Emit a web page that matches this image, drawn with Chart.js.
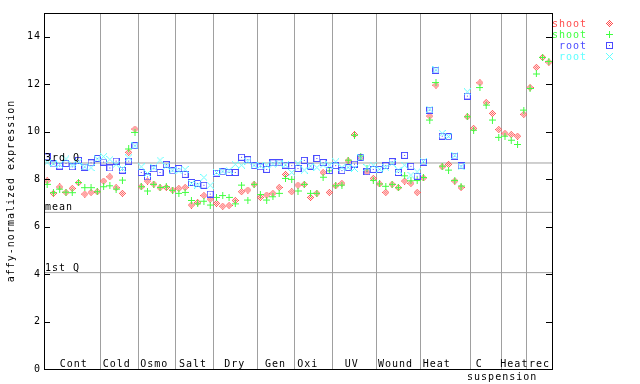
<!DOCTYPE html>
<html><head><meta charset="utf-8">
<script src="https://cdn.jsdelivr.net/npm/chart.js@4/dist/chart.umd.min.js"></script>
<style>html,body{margin:0;padding:0;background:#fff;overflow:hidden}#wrap{width:640px;height:384px}</style>
</head><body><div id="wrap"><canvas id="c" width="640" height="384"></canvas></div>
<script>
// ---- data ----
const groupNames = ['Cont','Cold','Osmo','Salt','Dry','Gen','Oxi','UV','Wound','Heat','C\nsuspension','Heat','rec'];
const groupSizes = [9,6,6,6,7,6,6,7,7,8,5,4,4];
const yTickValues = [0,2,4,6,8,10,12,14];
const quartileNames = ['3rd Q','mean','1st Q'];
const quartileValues = [8.68, 6.60, 4.06];
const seriesNames = ['shoot','shoot','root','root'];
const shootRed = [7.93,7.40,7.67,7.44,7.61,7.85,7.37,7.44,7.47,
  7.92,8.10,7.64,7.40,9.13,10.11,
  7.68,7.92,7.79,7.64,7.65,7.54,
  7.61,7.65,6.91,7.02,7.31,7.16,
  6.98,6.86,6.89,7.10,7.47,7.54,7.78,
  7.23,7.33,7.40,7.65,8.20,7.47,
  7.75,7.78,7.23,7.40,8.28,7.44,
  7.72,7.82,8.77,9.88,8.90,8.31,8.03,
  7.80,7.44,7.78,7.64,7.92,7.82,7.44,
  8.05,10.66,11.96,8.52,8.62,7.92,7.65,10.63,
  10.14,12.06,11.23,10.77,10.09,
  9.93,9.88,9.81,10.73,
  11.86,12.71,13.13,12.93];
const shootGreen = [7.78,7.43,7.58,7.45,7.43,7.86,7.64,7.64,7.47,
  7.68,7.72,7.58,7.96,9.27,9.97,
  7.68,7.50,7.78,7.65,7.68,7.53,
  7.40,7.44,7.10,6.96,7.07,6.91,
  7.23,7.31,7.23,6.96,7.75,7.12,7.78,
  7.35,7.12,7.26,7.40,8.03,7.99,
  7.50,7.78,7.40,7.40,8.08,8.35,
  7.72,7.75,8.80,9.85,8.97,8.45,7.95,
  7.80,7.70,7.78,7.64,8.14,7.93,7.94,
  8.07,10.49,12.07,8.55,8.38,7.95,7.71,10.63,
  10.06,11.86,11.12,10.49,9.76,
  9.81,9.64,9.46,10.91,
  11.82,12.43,13.13,12.96];
const rootBlue = [8.94,8.64,8.55,8.66,8.52,8.79,8.51,8.69,8.87,
  8.72,8.47,8.76,8.38,8.76,9.41,
  8.28,8.09,8.44,8.28,8.62,8.35,
  8.45,8.20,7.86,7.82,7.74,7.37,
  8.25,8.31,8.28,8.28,8.92,8.82,8.57,
  8.52,8.41,8.69,8.69,8.59,8.57,
  8.45,8.79,8.55,8.87,8.70,8.36,
  8.57,8.36,8.49,8.63,8.92,8.31,8.41,
  8.41,8.57,8.74,8.28,9.00,8.54,8.12,
  8.72,10.91,12.59,9.81,9.79,8.97,8.56,11.50];
const rootCyan = [8.71,8.65,8.62,8.85,8.60,8.72,8.52,8.48,8.85,
  8.95,8.83,8.62,8.45,8.90,9.40,
  8.52,8.24,8.50,8.80,8.55,8.38,
  8.35,8.41,7.82,7.75,8.07,7.74,
  8.28,8.34,8.37,8.62,8.59,8.75,8.59,
  8.57,8.59,8.63,8.67,8.60,8.28,
  8.66,8.38,8.55,8.49,8.60,8.59,
  8.73,8.49,8.50,8.45,8.90,8.49,8.59,
  8.42,8.49,8.66,8.38,8.59,8.17,8.31,
  8.75,10.95,12.60,9.93,9.80,9.00,8.52,11.68];

// ---- style ----
const FONT = '"DejaVu Sans Mono", monospace';
const COLORS = ['#ff4d4d','#40ff40','#4b4bff','#60ffff'];
const KINDS = ['diamond','plus','square','cross'];
const GRID = '#a0a0a0';
const labelShift = [1.5,-2.5,-2.7,-1.5,-0.5,-0.5,-6,-2.7,-2.8,-8.6,-7,0,0];

function makeMarker(color, kind){
  const c = document.createElement('canvas'); c.width = 7; c.height = 7;
  const g = c.getContext('2d'); g.fillStyle = color;
  for (let dy=-3; dy<=3; dy++) for (let dx=-3; dx<=3; dx++){
    let on = false;
    if (kind==='diamond') on = Math.abs(dx)+Math.abs(dy)===3 || (Math.abs(dx)+Math.abs(dy)===1);
    if (kind==='plus') on = dx===0 || dy===0;
    if (kind==='square') on = Math.abs(dx)===3 || Math.abs(dy)===3 || (dx===0 && dy===0);
    if (kind==='cross') on = Math.abs(dx)===Math.abs(dy);
    if (on) g.fillRect(dx+3, dy+3, 1, 1);
  }
  return c;
}
const markers = COLORS.map((c,i)=>makeMarker(c, KINDS[i]));

const boundaries = [0];
groupSizes.forEach(s => boundaries.push(boundaries[boundaries.length-1] + s));
const nSamples = boundaries[boundaries.length-1];

function toPoints(arr){ return arr.map((v,i)=>({x:i+0.5, y:v})).filter(p=>p.y!=null); }
const seriesData = [shootRed, shootGreen, rootBlue, rootCyan];

const datasets = seriesData.map((arr,k)=>({
  type:'scatter', label: seriesNames[k], data: toPoints(arr),
  pointStyle: markers[k], pointRadius: 3.5, pointHoverRadius: 3.5,
  borderColor: COLORS[k], backgroundColor: COLORS[k], order: 4-k
}));
quartileValues.forEach(q => datasets.push({
  type:'line', label:'', data:[{x:0,y:q},{x:nSamples,y:q}],
  borderColor: GRID, borderWidth: 1, pointRadius: 0, fill:false, order: 10
}));

const decor = {
  id:'decor',
  beforeDraw(chart){ chart.ctx.letterSpacing = '1px'; },
  afterDraw(chart){
    const ctx = chart.ctx, a = chart.chartArea, xs = chart.scales.x, ys = chart.scales.y;
    ctx.save();
    ctx.letterSpacing = '1px';
    ctx.strokeStyle = '#000'; ctx.lineWidth = 1;
    // frame
    ctx.strokeRect(Math.round(a.left)+0.5, Math.round(a.top)+0.5, Math.round(a.right-a.left)-1+1, Math.round(a.bottom-a.top));
    // inward ticks
    ctx.beginPath();
    yTickValues.forEach(v=>{
      const py = Math.round(ys.getPixelForValue(v))+0.5;
      ctx.moveTo(a.left, py); ctx.lineTo(a.left+6, py);
      ctx.moveTo(a.right, py); ctx.lineTo(a.right-6, py);
    });
    ctx.stroke();
    ctx.font = '10px ' + FONT;
    ctx.fillStyle = '#000';
    // quartile labels
    ctx.textAlign = 'left'; ctx.textBaseline = 'alphabetic';
    quartileValues.forEach((q,i)=>{
      ctx.fillText(quartileNames[i], a.left+1, ys.getPixelForValue(q)-2);
    });
    // group labels
    ctx.textAlign = 'center';
    groupNames.forEach((name,i)=>{
      const cx = (xs.getPixelForValue(boundaries[i]) + xs.getPixelForValue(boundaries[i+1]))/2 + labelShift[i];
      const lines = name.split('\n');
      ctx.fillText(lines[0], cx, a.bottom-2);
      if (lines[1]) ctx.fillText(lines[1], cx+23, a.bottom+11);
    });
    // legend
    ctx.textAlign = 'right';
    seriesNames.forEach((n,k)=>{
      const cy = a.top + 10 + k*11;
      ctx.fillStyle = COLORS[k];
      ctx.fillText(n, 587, cy+4);
      ctx.drawImage(markers[k], 606, cy-3);
    });
    ctx.restore();
  }
};

Chart.defaults.font.family = FONT;
Chart.defaults.font.size = 10;
Chart.defaults.color = '#000';

new Chart(document.getElementById('c'), {
  type:'scatter',
  data:{ datasets },
  options:{
    responsive:false, animation:false, devicePixelRatio:1,
    events: [],
    layout:{ padding:{ left:0, right:88, top:13, bottom:0 } },
    plugins:{ legend:{display:false}, tooltip:{enabled:false} },
    scales:{
      x:{ type:'linear', min:0, max:nSamples,
        afterBuildTicks(s){ s.ticks = boundaries.map(v=>({value:v})); },
        afterFit(s){ s.height = 15; },
        grid:{ color:GRID, lineWidth:1, drawTicks:false },
        border:{ display:false },
        ticks:{ display:false }
      },
      y:{ type:'linear', min:0, max:15,
        afterBuildTicks(s){ s.ticks = yTickValues.map(v=>({value:v})); },
        afterFit(s){ s.width = 44; },
        grid:{ display:false, drawTicks:false },
        border:{ display:false },
        ticks:{ padding:3, color:'#000', font:{size:10} },
        title:{ display:true, text:'affy-normalized expression', color:'#000', font:{size:10}, padding:{top:5,bottom:0} }
      }
    }
  },
  plugins:[decor]
});
</script>
</body></html>
